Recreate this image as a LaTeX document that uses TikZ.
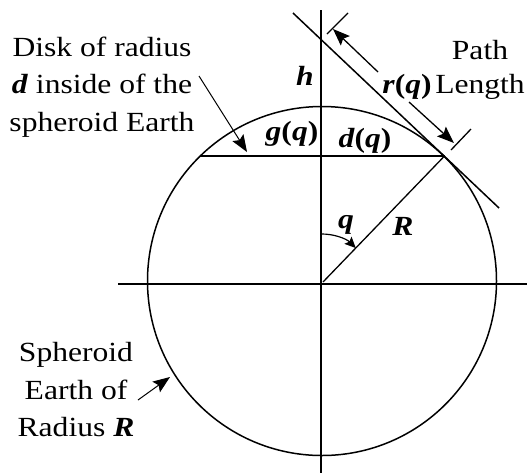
\documentclass[tikz,border=0pt]{standalone}
\usepackage{fontspec}
\setmainfont{Liberation Serif}
\usetikzlibrary{arrows.meta}
\tikzset{
  txt/.style={font=\fontsize{27.7}{37.5}\selectfont, inner sep=0pt, align=center},
  axis/.style={line width=1.9pt},
  callout/.style={line width=1pt, -{Stealth[length=17pt,width=13pt,inset=3pt]}},
  dimarrow/.style={line width=1.3pt, -{Stealth[length=17pt,width=13pt,inset=3pt]}},
}
\newcommand{\bi}[1]{\textbf{\textit{#1}}}
\newcommand{\sx}[1]{\scalebox{1.14}[1]{#1}}
\begin{document}
\begin{tikzpicture}[x=1pt,y=-1pt]
\useasboundingbox (0,0) rectangle (527,475);
% key points
\coordinate (O) at (322,281);
\coordinate (P) at (444.5,156);
\coordinate (Cl) at (200,156);
% axes
\draw[axis] (321,10) coordinate (vtop) -- (321,473) coordinate (vbot);
\draw[axis] (118,284) coordinate (hl) -- (527,284) coordinate (hr);
% earth
\draw[line width=1.5pt] (O) circle[radius=174.5];
% chord
\draw[axis] (Cl) -- (P);
% radius
\draw[line width=1.3pt] (323,282) coordinate (Rs) -- (P);
% tangent
\draw[line width=1.5pt] (293,13) coordinate (T1) -- (499,208) coordinate (T2);
% dimension ticks
\draw[line width=1.3pt] (327,34) coordinate (k1) -- (348,13) coordinate (k2);
\draw[line width=1.3pt] (451,150) coordinate (k3) -- (471,129) coordinate (k4);
\draw[dimarrow] (378,72) coordinate (d1) -- (333,29) coordinate (d2);
\draw[dimarrow] (409,102) coordinate (d3) -- (454,143) coordinate (d4);
% theta arc
\draw[line width=1.2pt, -{Stealth[length=11pt,width=10pt,inset=2pt]}] (321,234) coordinate (th) arc[start angle=-91, end angle=-45, radius=48];
% labels
\node[txt, anchor=base] (h) at (305,85) {\sx{\bi{h}}};
\node[txt, anchor=base] (g) at (292,140) {\sx{\bi{g}\textbf{(}\bi{q}\textbf{)}}};
\node[txt, anchor=base] (dq) at (365,147) {\sx{\bi{d}\textbf{(}\bi{q}\textbf{)}}};
\node[txt, anchor=base] (rq) at (407,93) {\sx{\bi{r}\textbf{(}\bi{q}\textbf{)}}};
\node[txt, anchor=base] (thq) at (346,228) {\sx{\bi{q}}};
\node[txt, anchor=base] (R) at (403,235) {\sx{\bi{R}}};
\node[txt, font=\fontsize{27.7}{34}\selectfont] (path) at (480,70) {\sx{Path}\\\sx{Length}};
\node[txt] (disk) at (102,87) {\sx{Disk of radius}\\\sx{\bi{d} inside of the}\\\sx{spheroid Earth}};
\node[txt] (earth) at (76,390) {\sx{Spheroid}\\\sx{Earth of}\\\sx{Radius \bi{R}}};
% callouts
\draw[callout] (199,76) coordinate (a1) -- (247,152) coordinate (a2);
\draw[callout] (138,400) coordinate (b1) -- (170,377) coordinate (b2);
\end{tikzpicture}
\end{document}
